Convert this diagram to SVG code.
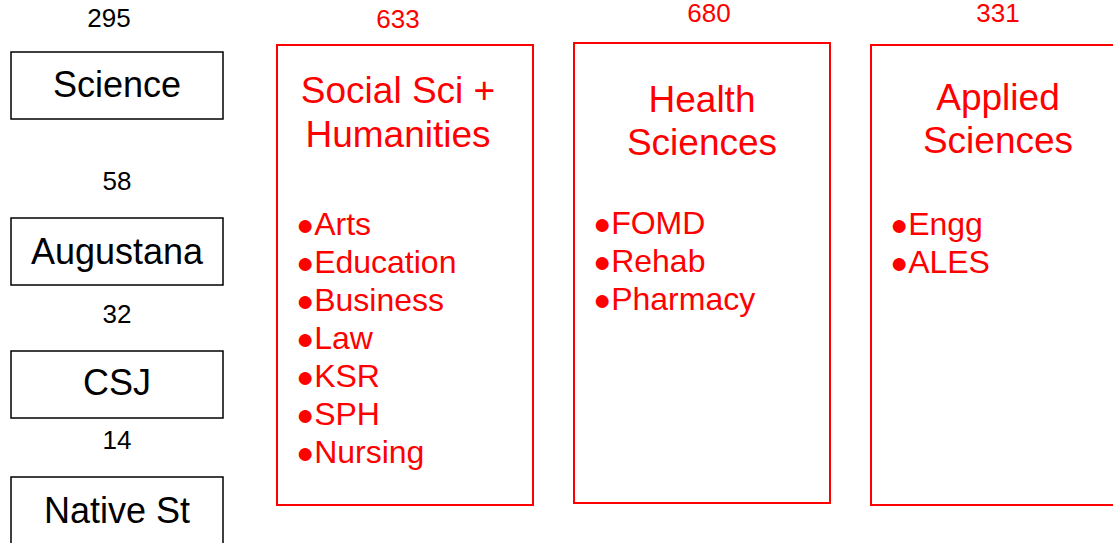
<svg xmlns="http://www.w3.org/2000/svg" width="1113" height="543" viewBox="0 0 1113 543">
<style>
text{font-family:"Liberation Sans",Arial,sans-serif}
.bk{fill:#fff;stroke:#000;stroke-width:1.5}
.rd{fill:#fff;stroke:#ff0000;stroke-width:2}
.lbl{font-size:36px;fill:#000;text-anchor:middle}
.num{font-size:26px;fill:#000;text-anchor:middle}
.rnum{font-size:26px;fill:#ff0000;text-anchor:middle}
.ttl{font-size:37px;fill:#ff0000;text-anchor:middle}
.itm{font-size:32px;fill:#ff0000}
.bul{font-size:30px}
</style>
<rect width="1113" height="543" fill="#fff"/>
<g id="connectors"></g>
<g id="science">
<text class="num" x="109" y="27">295</text>
<rect class="bk" x="11" y="52" width="212" height="67"/>
<text class="lbl" x="117" y="97">Science</text>
</g>
<g id="augustana">
<text class="num" x="117" y="190">58</text>
<rect class="bk" x="11" y="218" width="212" height="67"/>
<text class="lbl" x="117" y="264">Augustana</text>
</g>
<g id="csj">
<text class="num" x="117" y="323">32</text>
<rect class="bk" x="11" y="351" width="212" height="67"/>
<text class="lbl" x="117" y="395">CSJ</text>
</g>
<g id="native">
<text class="num" x="117" y="449">14</text>
<rect class="bk" x="11" y="477" width="212" height="80"/>
<text class="lbl" x="117" y="523">Native St</text>
</g>
<g id="social">
<text class="rnum" x="398" y="28">633</text>
<rect class="rd" x="277" y="45" width="256" height="460"/>
<text class="ttl" x="398" y="103">Social Sci +</text>
<text class="ttl" x="398" y="147">Humanities</text>
<text class="itm" x="296" y="235"><tspan class="bul">●</tspan>Arts</text>
<text class="itm" x="296" y="273"><tspan class="bul">●</tspan>Education</text>
<text class="itm" x="296" y="311"><tspan class="bul">●</tspan>Business</text>
<text class="itm" x="296" y="349"><tspan class="bul">●</tspan>Law</text>
<text class="itm" x="296" y="387"><tspan class="bul">●</tspan>KSR</text>
<text class="itm" x="296" y="425"><tspan class="bul">●</tspan>SPH</text>
<text class="itm" x="296" y="463"><tspan class="bul">●</tspan>Nursing</text>
</g>
<g id="health">
<text class="rnum" x="709" y="22">680</text>
<rect class="rd" x="574" y="43" width="256" height="460"/>
<text class="ttl" x="702" y="112">Health</text>
<text class="ttl" x="702" y="155">Sciences</text>
<text class="itm" x="593" y="234"><tspan class="bul">●</tspan>FOMD</text>
<text class="itm" x="593" y="272"><tspan class="bul">●</tspan>Rehab</text>
<text class="itm" x="593" y="310"><tspan class="bul">●</tspan>Pharmacy</text>
</g>
<g id="applied">
<text class="rnum" x="998" y="22">331</text>
<rect class="rd" x="871" y="45" width="256" height="460"/>
<text class="ttl" x="998" y="110">Applied</text>
<text class="ttl" x="998" y="153">Sciences</text>
<text class="itm" x="890" y="235"><tspan class="bul">●</tspan>Engg</text>
<text class="itm" x="890" y="273"><tspan class="bul">●</tspan>ALES</text>
</g>
</svg>
